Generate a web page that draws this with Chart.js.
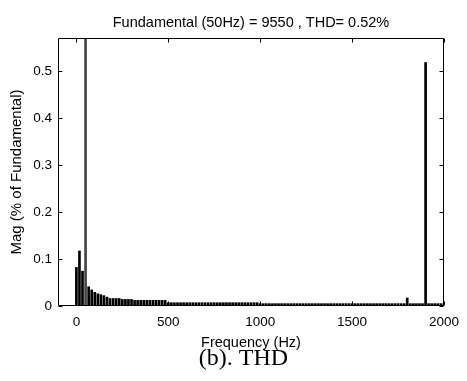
<!DOCTYPE html>
<html>
<head>
<meta charset="utf-8">
<script src="https://cdn.jsdelivr.net/npm/chart.js@4"></script>
<style>
  html, body { margin: 0; padding: 0; background: #fff; }
  #wrap { width: 467px; height: 381px; }
</style>
</head>
<body>
<div id="wrap"><canvas id="c" width="467" height="381"></canvas></div>
<script>
const chartTitle = 'Fundamental (50Hz) = 9550 , THD= 0.52%';
const xTitle = 'Frequency (Hz)';
const yTitle = 'Mag (% of Fundamental)';
const caption = '(b). THD';

const freqHz = [
  0, 16.7, 33.3, 50, 66.7, 83.3,
  100, 116.7, 133.3, 150, 166.7, 183.3,
  200, 216.7, 233.3, 250, 266.7, 283.3,
  300, 316.7, 333.3, 350, 366.7, 383.3,
  400, 416.7, 433.3, 450, 466.7, 483.3,
  500, 516.7, 533.3, 550, 566.7, 583.3,
  600, 616.7, 633.3, 650, 666.7, 683.3,
  700, 716.7, 733.3, 750, 766.7, 783.3,
  800, 816.7, 833.3, 850, 866.7, 883.3,
  900, 916.7, 933.3, 950, 966.7, 983.3,
  1000, 1016.7, 1033.3, 1050, 1066.7, 1083.3,
  1100, 1116.7, 1133.3, 1150, 1166.7, 1183.3,
  1200, 1216.7, 1233.3, 1250, 1266.7, 1283.3,
  1300, 1316.7, 1333.3, 1350, 1366.7, 1383.3,
  1400, 1416.7, 1433.3, 1450, 1466.7, 1483.3,
  1500, 1516.7, 1533.3, 1550, 1566.7, 1583.3,
  1600, 1616.7, 1633.3, 1650, 1666.7, 1683.3,
  1700, 1716.7, 1733.3, 1750, 1766.7, 1783.3,
  1800, 1816.7, 1833.3, 1850, 1866.7, 1883.3,
  1900, 1916.7, 1933.3, 1950, 1966.7, 1983.3,
  2000
];

const magPct = [
  0.082, 0.117, 0.074, 100, 0.041, 0.034,
  0.029, 0.026, 0.024, 0.022, 0.019, 0.016,
  0.016, 0.016, 0.016, 0.014, 0.014, 0.014,
  0.014, 0.012, 0.012, 0.012, 0.012, 0.012,
  0.012, 0.012, 0.012, 0.012, 0.012, 0.012,
  0.007, 0.007, 0.007, 0.007, 0.007, 0.007,
  0.007, 0.007, 0.007, 0.007, 0.007, 0.007,
  0.007, 0.007, 0.007, 0.007, 0.007, 0.007,
  0.007, 0.007, 0.007, 0.007, 0.007, 0.007,
  0.007, 0.007, 0.007, 0.007, 0.007, 0.007,
  0.005, 0.005, 0.005, 0.005, 0.005, 0.005,
  0.005, 0.005, 0.005, 0.005, 0.005, 0.005,
  0.005, 0.005, 0.005, 0.005, 0.005, 0.005,
  0.005, 0.005, 0.005, 0.005, 0.005, 0.005,
  0.005, 0.005, 0.005, 0.005, 0.005, 0.005,
  0.005, 0.005, 0.005, 0.005, 0.005, 0.005,
  0.005, 0.005, 0.005, 0.005, 0.005, 0.005,
  0.005, 0.005, 0.005, 0.005, 0.005, 0.005,
  0.017, 0.005, 0.005, 0.005, 0.005, 0.005,
  0.518, 0.005, 0.005, 0.005, 0.005, 0.005,
  0.005
];

const xTickValues = [0, 500, 1000, 1500, 2000];
const yTickValues = [0, 0.1, 0.2, 0.3, 0.4, 0.5];

const sansFam = "'Liberation Sans', Arial, Helvetica, sans-serif";

// MATLAB-like box with inward ticks on all four sides
const boxPlugin = {
  id: 'matlabBox',
  afterDatasetsDraw(chart) {
    const {ctx, chartArea: a, scales: {x, y}} = chart;
    const len = 4;
    const L = Math.round(a.left) + 0.5, R = Math.round(a.right) - 0.5;
    const T = Math.round(a.top) + 0.5, B = Math.round(a.bottom) - 0.5;
    ctx.save();
    ctx.strokeStyle = '#000';
    ctx.lineWidth = 1;
    ctx.beginPath();
    ctx.rect(L, T, R - L, B - T);
    xTickValues.forEach(v => {
      const px = Math.round(x.getPixelForValue(v)) + 0.5;
      ctx.moveTo(px, B); ctx.lineTo(px, B - len);
      ctx.moveTo(px, T); ctx.lineTo(px, T + len);
    });
    yTickValues.forEach(v => {
      const py = Math.round(y.getPixelForValue(v)) + 0.5;
      ctx.moveTo(L, py); ctx.lineTo(L + len, py);
      ctx.moveTo(R, py); ctx.lineTo(R - len, py);
    });
    ctx.stroke();
    ctx.restore();
  }
};

new Chart(document.getElementById('c'), {
  type: 'bar',
  data: {
    datasets: [{
      data: freqHz.map((f, i) => ({ x: f, y: magPct[i] })),
      backgroundColor: ctx => (ctx.raw && ctx.raw.y > 1 ? '#444' : '#000'),
      borderWidth: 0,
      barThickness: 2,
      grouped: false
    }]
  },
  options: {
    responsive: false,
    animation: false,
    devicePixelRatio: 1,
    layout: { padding: { top: 0, right: 14, bottom: 0, left: 34 } },
    plugins: {
      legend: { display: false },
      tooltip: { enabled: false },
      title: {
        display: true,
        fullSize: false,
        text: chartTitle,
        color: '#000',
        font: { family: sansFam, size: 14.5, weight: 'normal', lineHeight: 1.2 },
        padding: { top: 14.3, bottom: 6.3 }
      },
      subtitle: {
        display: true,
        position: 'bottom',
        text: caption,
        color: '#000',
        font: { family: "'Liberation Serif', 'Times New Roman', serif", size: 24, weight: 'normal', lineHeight: 1 },
        padding: { top: -4.7, bottom: 10 }
      }
    },
    scales: {
      x: {
        type: 'linear',
        min: -100,
        max: 2000,
        offset: false,
        afterBuildTicks: s => { s.ticks = xTickValues.map(v => ({ value: v })); },
        afterFit: s => { s.height = 45.7; },
        grid: { display: false, drawTicks: false, offset: false },
        border: { display: false },
        ticks: {
          color: '#000',
          padding: 8,
          maxRotation: 0,
          autoSkip: false,
          font: { family: sansFam, size: 13.5 },
          callback: v => String(v)
        },
        title: {
          display: true,
          text: xTitle,
          color: '#000',
          font: { family: sansFam, size: 14.5, lineHeight: 1.2 },
          padding: { top: 0, bottom: 0 }
        }
      },
      y: {
        min: 0,
        max: 0.57,
        afterBuildTicks: s => { s.ticks = yTickValues.map(v => ({ value: v })); },
        afterFit: s => { s.width = 24; },
        grid: { display: false, drawTicks: false },
        border: { display: false },
        ticks: {
          color: '#000',
          padding: 6,
          autoSkip: false,
          font: { family: sansFam, size: 13.5 },
          callback: v => (v === 0 ? '0' : String(Math.round(v * 10) / 10))
        },
        title: {
          display: true,
          text: yTitle,
          color: '#000',
          font: { family: sansFam, size: 15, lineHeight: 1.2 },
          padding: { top: -26, bottom: 0 }
        }
      }
    }
  },
  plugins: [boxPlugin]
});
</script>
</body>
</html>
